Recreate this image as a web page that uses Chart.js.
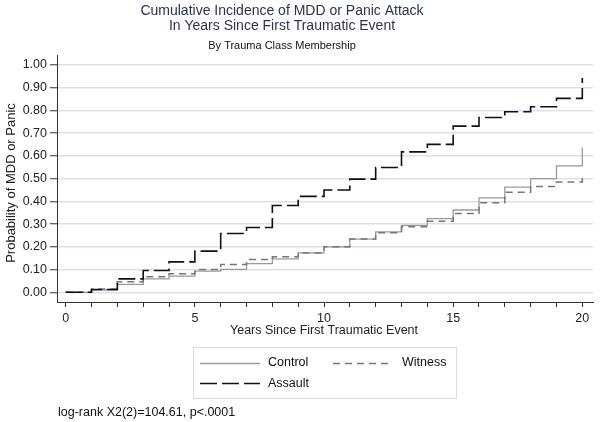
<!DOCTYPE html>
<html>
<head>
<meta charset="utf-8">
<script src="https://cdn.jsdelivr.net/npm/chart.js@4/dist/chart.umd.min.js"></script>
<style>
html,body{margin:0;padding:0;background:#fff;}
canvas{display:block;}
</style>
</head>
<body>
<canvas id="c" width="600" height="422"></canvas>
<script>
const years = [0,1,2,3,4,5,6,7,8,9,10,11,12,13,14,15,16,17,18,19,20];
const control = [0,0.010,0.035,0.059,0.071,0.093,0.101,0.126,0.147,0.173,0.200,0.234,0.266,0.294,0.324,0.362,0.415,0.463,0.500,0.556,0.637];
const witness = [0,0.015,0.046,0.068,0.082,0.100,0.122,0.144,0.156,0.173,0.200,0.234,0.262,0.288,0.313,0.347,0.394,0.440,0.465,0.485,0.524];
const assault = [0,0.012,0.059,0.096,0.134,0.181,0.259,0.285,0.382,0.422,0.450,0.498,0.549,0.618,0.651,0.731,0.769,0.794,0.816,0.853,0.943];
const yTicks = [0,0.1,0.2,0.3,0.4,0.5,0.6,0.7,0.8,0.9,1.0];
const xTicks = years;
const xLabelTicks = [0,5,10,15,20];

const FONT = "'Liberation Sans', Arial, Helvetica, sans-serif";
const toPts = arr => arr.map((v,i)=>({x:years[i], y:v}));

const textPlugin = {
  id:'texts',
  afterDraw(chart){
    const ctx = chart.ctx;
    ctx.save();
    ctx.textBaseline = 'middle';
    ctx.textAlign = 'center';
    ctx.fillStyle = '#2b3350';
    ctx.font = '14px ' + FONT;
    ctx.fillText('Cumulative Incidence of MDD or Panic Attack', 282, 11);
    ctx.fillText('In Years Since First Traumatic Event', 282, 26);
    ctx.fillStyle = '#111';
    ctx.font = '11px ' + FONT;
    ctx.fillText('By Trauma Class Membership', 282, 46);
    ctx.fillStyle = '#222';
    ctx.font = '12.5px ' + FONT;
    ctx.fillText('Years Since First Traumatic Event', 324, 331);
    ctx.save();
    ctx.translate(11, 183);
    ctx.rotate(-Math.PI/2);
    ctx.font = '13px ' + FONT;
    ctx.fillText('Probability of MDD or Panic', 0, 0);
    ctx.restore();
    ctx.strokeStyle = '#dcdcdc';
    ctx.lineWidth = 1;
    ctx.strokeRect(193.5, 347.5, 263, 51);
    const ds = chart.data.datasets;
    const drawSample = (d, x1, x2, y) => {
      ctx.save();
      ctx.strokeStyle = d.borderColor;
      ctx.lineWidth = d.borderWidth;
      ctx.setLineDash(d.borderDash || []);
      ctx.beginPath();
      ctx.moveTo(x1, y); ctx.lineTo(x2, y);
      ctx.stroke();
      ctx.restore();
    };
    const byName = n => ds.find(d=>d.label===n);
    ctx.textAlign = 'left';
    ctx.font = '12.5px ' + FONT;
    ctx.fillStyle = '#111';
    drawSample(byName('Control'), 200, 260, 363.5);
    ctx.fillText('Control', 268, 363);
    drawSample(byName('Witness'), 333, 392, 363.5);
    ctx.fillText('Witness', 402, 363);
    drawSample(byName('Assault'), 200, 260, 383.5);
    ctx.fillText('Assault', 268, 384);
    ctx.fillText('log-rank X2(2)=104.61, p<.0001', 58, 413);
    ctx.restore();
  }
};

new Chart(document.getElementById('c'), {
  type:'line',
  data:{
    datasets:[
      {label:'Assault', data:toPts(assault), stepped:'before', borderColor:'#111', borderWidth:1.6, borderDash:[17,5], pointRadius:0, fill:false},
      {label:'Witness', data:toPts(witness), stepped:'before', borderColor:'#777', borderWidth:1.5, borderDash:[7,5], pointRadius:0, fill:false},
      {label:'Control', data:toPts(control), stepped:'before', borderColor:'#9a9a9a', borderWidth:1.3, pointRadius:0, fill:false}
    ]
  },
  options:{
    responsive:false,
    animation:false,
    devicePixelRatio:1,
    layout:{padding:{top:55,left:0,right:7,bottom:0}},
    plugins:{legend:{display:false},tooltip:{enabled:false},title:{display:false}},
    scales:{
      x:{
        type:'linear', min:-0.337, max:20.414,
        afterBuildTicks(s){ s.ticks = xTicks.map(v=>({value:v})); },
        afterFit(s){ s.height = 120; },
        ticks:{
          autoSkip:false, maxRotation:0, padding:4, color:'#222',
          font:{family:FONT, size:12.5},
          callback:v => xLabelTicks.includes(v) ? String(v) : ''
        },
        grid:{drawOnChartArea:false, tickLength:5, tickColor:'#333', tickWidth:1},
        border:{display:true, color:'#333', width:1}
      },
      y:{
        type:'linear', min:-0.0427, max:1.044,
        afterBuildTicks(s){ s.ticks = yTicks.map(v=>({value:v})); },
        afterFit(s){ s.width = 57; },
        ticks:{
          autoSkip:false, padding:3, color:'#222',
          font:{family:FONT, size:12.5},
          callback:v => Number(v).toFixed(2)
        },
        grid:{drawOnChartArea:true, color:'#dfdfeb', lineWidth:1.5, tickLength:7, tickColor:'#333', tickWidth:1},
        border:{display:true, color:'#333', width:1}
      }
    }
  },
  plugins:[textPlugin]
});
</script>
</body>
</html>
